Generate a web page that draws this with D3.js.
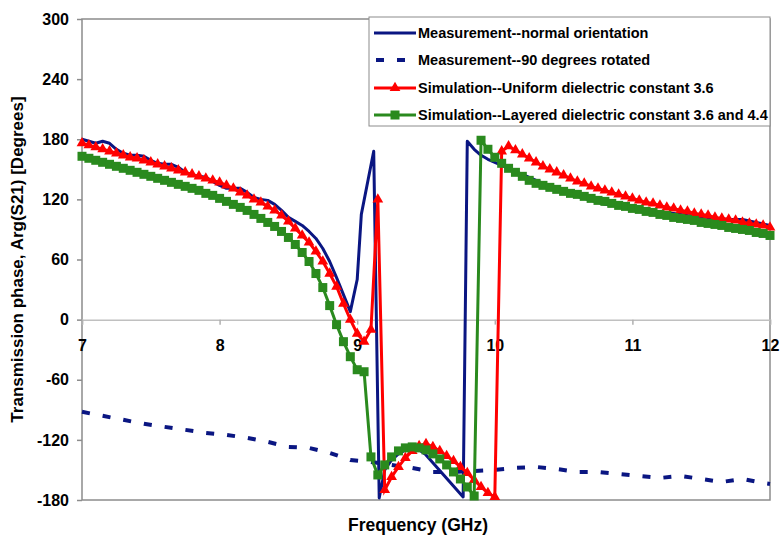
<!DOCTYPE html>
<html>
<head>
<meta charset="utf-8">
<script src="https://d3js.org/d3.v7.min.js"></script>
<style>
  body { margin: 0; background: #fff; }
  text { font-family: Arial, "Liberation Sans", sans-serif; font-weight: bold; }
</style>
</head>
<body>
<svg id="chart"></svg>
<script>
// 測定値・シミュレーション値 (周波数 GHz, 位相 deg)
const measNormF = [7.00,7.05,7.10,7.15,7.20,7.25,7.30,7.35,7.40,7.45,7.50,7.55,7.60,7.65,7.70,7.75,7.80,7.85,7.90,7.95,
  8.00,8.05,8.10,8.15,8.20,8.25,8.30,8.35,8.40,8.45,8.50,8.55,8.60,8.65,8.70,8.75,8.80,8.85,8.90,8.95,
  9.00,9.03,9.08,9.12,9.16,9.20,9.25,9.30,9.35,9.40,9.45,9.50,9.77,9.80,9.85,9.90,9.95,
  10.00,10.05,10.10,10.15,10.20,10.25,10.30,10.35,10.40,10.45,10.50,10.55,10.60,10.65,10.70,10.75,10.80,10.85,10.90,10.95,
  11.00,11.10,11.20,11.30,11.40,11.50,11.60,11.70,11.80,11.90,12.00];
const measNorm = [180,178,176,178,176,170,166,164,164,163,159,156,155,155,152,147,144,143,142,138,
  134,131,131,131,127,122,120,119,115,109,102,98,94,88,81,71,58,42,25,8,
  40,105,140,168,-178,-150,-140,-134,-130,-128,-130,-135,-177,178,170,164,160,
  157,154,151,148,145,142,139,136,133,130,128,126,123,121,119,117,115,114,113,112,
  111,109,107,106,104,103,101,100,100,97,94];

const measRotF = [7.00,7.15,7.30,7.45,7.60,7.75,7.90,8.05,8.20,8.35,8.50,8.65,8.80,8.95,9.10,9.25,9.40,9.55,9.70,9.85,
  10.00,10.15,10.30,10.45,10.60,10.75,10.90,11.05,11.20,11.35,11.50,11.65,11.80,11.95,12.00];
const measRot = [-92,-96,-100,-104,-107,-110,-113,-115,-118,-122,-127,-128,-133,-140,-142,-145,-148,-152,-152,-151,
  -150,-148,-147,-149,-152,-152,-154,-156,-158,-156,-159,-162,-159,-163,-164];

const simUniF = [7.00,7.05,7.10,7.15,7.20,7.25,7.30,7.35,7.40,7.45,7.50,7.55,7.60,7.65,7.70,7.75,7.80,7.85,7.90,7.95,
  8.00,8.05,8.10,8.15,8.20,8.25,8.30,8.35,8.40,8.45,8.50,8.55,8.60,8.65,8.70,8.75,8.80,8.85,8.90,8.95,
  9.00,9.05,9.10,9.15,9.20,9.25,9.30,9.35,9.40,9.45,9.50,9.55,9.60,9.65,9.70,9.75,9.80,9.85,9.90,9.95,
  10.00,10.05,10.10,10.15,10.20,10.25,10.30,10.35,10.40,10.45,10.50,10.55,10.60,10.65,10.70,10.75,10.80,10.85,10.90,10.95,
  11.00,11.05,11.10,11.15,11.20,11.25,11.30,11.35,11.40,11.45,11.50,11.55,11.60,11.65,11.70,11.75,11.80,11.85,11.90,11.95,12.00];
const simUni = [176,174,172,170,168,166,164,162,161,159,157,155,153,151,149,147,145,143,141,139,
  137,134,131,127,124,120,117,113,109,104,98,91,84,77,68,58,46,33,16,0,
  -14,-22,-10,120,-170,-157,-147,-138,-131,-126,-124,-127,-131,-136,-141,-147,-153,-160,-167,-173,
  -177,168,173,169,165,161,157,153,150,147,144,141,138,136,133,131,129,127,125,123,
  121,119,117,116,114,112,111,109,108,106,105,104,102,101,100,99,97,96,95,94,92];

const simLayF = simUniF;
const simLay = [163,161,159,157,155,153,151,149,147,145,143,141,139,137,135,133,131,129,126,124,
  121,118,115,112,109,105,101,97,93,88,82,75,67,58,46,32,14,-5,-22,-37,
  -50,-52,-137,-155,-145,-137,-131,-128,-127,-128,-130,-134,-139,-145,-152,-159,-167,-176,179,170,
  162,156,151,147,143,139,136,134,132,130,128,126,125,123,121,119,118,116,114,113,
  111,110,108,107,105,104,102,101,100,99,97,96,95,94,92,91,90,89,87,86,84];

const xTicks = [7, 8, 9, 10, 11, 12];
const yTicks = [-180, -120, -60, 0, 60, 120, 180, 240, 300];
const legendLabels = [
  "Measurement--normal orientation",
  "Measurement--90 degrees rotated",
  "Simulation--Uniform dielectric constant 3.6",
  "Simulation--Layered dielectric constant 3.6 and 4.4"
];

(function() {
  const width = 780;
  const height = 537;
  const left = 82, right = 770, top = 19, bottom = 500;

  const blue = "#0a1682";
  const red = "#ff0000";
  const green = "#2a8a1e";

  const svg = d3.select("#chart")
    .attr("width", width)
    .attr("height", height);

  const x = d3.scaleLinear().domain([7, 12]).range([left, right]);
  const y = d3.scaleLinear().domain([-180, 300]).range([bottom, top]);

  // 枠
  svg.append("rect")
    .attr("x", left).attr("y", top)
    .attr("width", right - left).attr("height", bottom - top)
    .attr("fill", "none").attr("stroke", "#8c8c8c").attr("stroke-width", 1.5);

  // y軸
  svg.append("g")
    .attr("transform", `translate(${left},0)`)
    .call(d3.axisLeft(y).tickValues(yTicks).tickSize(5).tickPadding(8).tickFormat(d => String(d)))
    .call(g => g.select(".domain").remove())
    .call(g => g.selectAll("line").attr("stroke", "#8c8c8c").attr("stroke-width", 1.5))
    .call(g => g.selectAll("text").attr("font-size", 16).attr("fill", "#000")
      .style("font-family", "Arial, 'Liberation Sans', sans-serif").style("font-weight", "bold"));

  // x軸 (0 の位置)
  svg.append("g")
    .attr("transform", `translate(0,${y(0)})`)
    .call(d3.axisBottom(x).tickValues(xTicks).tickSize(5).tickPadding(15).tickFormat(d => String(d)))
    .call(g => g.select(".domain").attr("stroke", "#c0c0c0").attr("stroke-width", 1.5))
    .call(g => g.selectAll("line").attr("stroke", "#b0b0b0").attr("stroke-width", 1.5))
    .call(g => g.selectAll("text").attr("font-size", 16).attr("fill", "#000")
      .style("font-family", "Arial, 'Liberation Sans', sans-serif").style("font-weight", "bold"));

  // タイトル
  svg.append("text")
    .attr("transform", `translate(23,${(top + bottom) / 2}) rotate(-90)`)
    .attr("text-anchor", "middle")
    .attr("font-size", 17)
    .text("Transmission phase, Arg(S21) [Degrees]");

  svg.append("text")
    .attr("x", 418).attr("y", 531)
    .attr("text-anchor", "middle")
    .attr("font-size", 17.5)
    .text("Frequency (GHz)");

  const line = d3.line().x(d => x(d[0])).y(d => y(d[1]));
  const zip = (fs, vs) => fs.map((f, i) => [f, vs[i]]);

  // 測定 (通常)
  svg.append("path")
    .datum(zip(measNormF, measNorm))
    .attr("d", line)
    .attr("fill", "none").attr("stroke", blue).attr("stroke-width", 3)
    .attr("stroke-linejoin", "round");

  // 測定 (90度回転)
  svg.append("path")
    .datum(zip(measRotF, measRot))
    .attr("d", line)
    .attr("fill", "none").attr("stroke", blue).attr("stroke-width", 4)
    .attr("stroke-dasharray", "8,13");

  // シミュレーション (一様)
  const uni = zip(simUniF, simUni);
  svg.append("path")
    .datum(uni)
    .attr("d", line)
    .attr("fill", "none").attr("stroke", red).attr("stroke-width", 3);
  const tri = d3.symbol().type(d3.symbolTriangle).size(50);
  svg.append("g").selectAll("path")
    .data(uni).enter().append("path")
    .attr("d", tri)
    .attr("transform", d => `translate(${x(d[0])},${y(d[1])})`)
    .attr("fill", red);

  // シミュレーション (層状)
  const lay = zip(simLayF, simLay);
  svg.append("path")
    .datum(lay)
    .attr("d", line)
    .attr("fill", "none").attr("stroke", green).attr("stroke-width", 3);
  svg.append("g").selectAll("rect")
    .data(lay).enter().append("rect")
    .attr("x", d => x(d[0]) - 4.5).attr("y", d => y(d[1]) - 4.5)
    .attr("width", 9).attr("height", 9)
    .attr("fill", green);

  // 凡例
  const lg = svg.append("g");
  lg.append("rect")
    .attr("x", 369).attr("y", 17).attr("width", 401).attr("height", 109)
    .attr("fill", "#fff").attr("stroke", "#8c8c8c").attr("stroke-width", 1);
  const rowY = [33, 60, 88, 115];
  legendLabels.forEach((lab, i) => {
    const yy = rowY[i];
    const color = i < 2 ? blue : (i === 2 ? red : green);
    lg.append("line")
      .attr("x1", 374).attr("x2", 416).attr("y1", yy).attr("y2", yy)
      .attr("stroke", color).attr("stroke-width", i === 1 ? 4 : 3)
      .attr("stroke-dasharray", i === 1 ? "8,13" : null)
      .attr("stroke-dashoffset", i === 1 ? -2 : null);
    if (i === 2) {
      lg.append("path").attr("d", tri).attr("transform", `translate(395,${yy})`).attr("fill", red);
    }
    if (i === 3) {
      lg.append("rect").attr("x", 390.5).attr("y", yy - 4.5).attr("width", 9).attr("height", 9).attr("fill", green);
    }
    lg.append("text")
      .attr("x", 418).attr("y", yy + 5)
      .attr("font-size", 14.5)
      .text(lab);
  });
})();
</script>
</body>
</html>
